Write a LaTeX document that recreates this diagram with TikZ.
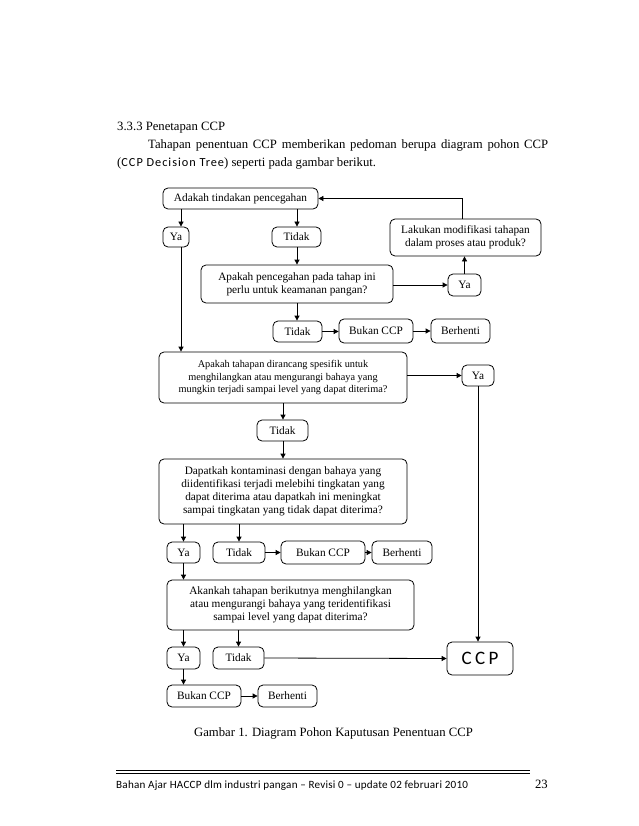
\documentclass[tikz,border=0pt]{standalone}
\usepackage{fontspec}
\setmainfont{Liberation Serif}
\newfontfamily\calibsp[LetterSpace=8]{Carlito}
\newfontfamily\calibfoot[LetterSpace=2]{Carlito}
\newfontfamily\calibbig[LetterSpace=18]{Carlito}
\usetikzlibrary{arrows.meta}
\begin{document}
\begin{tikzpicture}[x=1pt,y=-1pt,
  box/.style={draw, rounded corners=5pt, line width=0.8pt, inner sep=0pt, align=center,
              font=\fontsize{11.3}{13}\selectfont},
  small/.style={font=\fontsize{10.3}{12.4}\selectfont},
  arr/.style={line width=0.8pt, -{Triangle[length=5pt,width=5pt]}},
  ln/.style={line width=0.8pt},
  txt/.style={inner sep=0pt, font=\fontsize{12.7}{15}\selectfont}]
\useasboundingbox[fill=white] (0,0) rectangle (638,826);

% page text
\node[txt, anchor=base west] (head) at (117,131) {3.3.3 Penetapan CCP};
\node[txt, anchor=base west] (par1) at (148,149) {\makebox[400pt][s]{Tahapan penentuan CCP memberikan pedoman berupa diagram pohon CCP}};
\node[txt, anchor=base west] (par2) at (117,167) {({\calibsp\fontsize{12.3}{14}\selectfont CCP Decision Tree}) seperti pada gambar berikut.};

% boxes
\node[box, minimum width=155pt, minimum height=21pt] (adakah) at (240.5,198.5) {Adakah tindakan pencegahan};
\node[box, minimum width=26pt, minimum height=20pt] (ya1) at (176,237) {Ya};
\node[box, minimum width=49pt, minimum height=20pt] (tidak1) at (296.5,237) {Tidak};
\node[box, minimum width=151pt, minimum height=37pt] (lakukan) at (465.5,237.5) {Lakukan modifikasi tahapan\\dalam proses atau produk?};
\node[box, minimum width=192pt, minimum height=38pt] (apakah1) at (297,284) {Apakah pencegahan pada tahap ini\\perlu untuk keamanan pangan?};
\node[box, minimum width=33pt, minimum height=22pt] (ya2) at (464.5,285) {Ya};
\node[box, minimum width=49pt, minimum height=21pt] (tidak2) at (297.5,331.5) {Tidak};
\node[box, minimum width=74pt, minimum height=24pt] (bukan1) at (376,331) {Bukan CCP};
\node[box, minimum width=59pt, minimum height=24pt] (berhenti1) at (460.5,331) {Berhenti};
\node[box, small, minimum width=248pt, minimum height=51pt] (apakah2) at (283,377.5) {Apakah tahapan dirancang spesifik untuk\\menghilangkan atau mengurangi bahaya yang\\mungkin terjadi sampai level yang dapat diterima?};
\node[box, minimum width=32pt, minimum height=21pt] (ya3) at (478,375.5) {Ya};
\node[box, minimum width=51pt, minimum height=21pt] (tidak3) at (282.5,430.5) {Tidak};
\node[box, minimum width=248pt, minimum height=65pt] (dapat) at (283,491.5) {Dapatkah kontaminasi dengan bahaya yang\\diidentifikasi terjadi melebihi tingkatan yang\\dapat diterima atau dapatkah ini meningkat\\sampai tingkatan yang tidak dapat diterima?};
\node[box, minimum width=33pt, minimum height=21pt] (ya4) at (183.5,552.5) {Ya};
\node[box, minimum width=52pt, minimum height=21pt] (tidak4) at (239,552.5) {Tidak};
\node[box, minimum width=84pt, minimum height=23pt] (bukan2) at (323,552.5) {Bukan CCP};
\node[box, minimum width=60pt, minimum height=23pt] (berhenti2) at (402,552.5) {Berhenti};
\node[box, minimum width=247pt, minimum height=50pt] (akan) at (290.5,605) {Akankah tahapan berikutnya menghilangkan\\atau mengurangi bahaya yang teridentifikasi\\sampai level yang dapat diterima?};
\node[box, minimum width=33pt, minimum height=22pt] (ya5) at (183.5,658) {Ya};
\node[box, minimum width=51pt, minimum height=22pt] (tidak5) at (238.5,658) {Tidak};
\node[box, minimum width=66pt, minimum height=33pt, font=\calibbig\fontsize{19}{22}\selectfont] (ccp) at (480,658.5) {CCP};
\node[box, minimum width=74pt, minimum height=22pt] (bukan3) at (204,696) {Bukan CCP};
\node[box, minimum width=59pt, minimum height=22pt] (berhenti3) at (287.5,696) {Berhenti};

% connectors
\draw[arr] (lakukan.north -| 462,0) |- (adakah.east);
\draw[arr] (adakah.south -| 181,0) -- (ya1.north -| 181,0);
\draw[arr] (adakah.south -| 297,0) -- (tidak1.north -| 297,0);
\draw[arr] (tidak1.south -| 297,0) -- (apakah1.north -| 297,0);
\draw[arr] (apakah1.east |- ya2) -- (ya2.west);
\draw[arr] (ya2.north) -- (lakukan.south -| ya2.north);
\draw[arr] (apakah1.south -| 297,0) -- (tidak2.north -| 297,0);
\draw[arr] (tidak2.east) -- (bukan1.west |- tidak2.east);
\draw[arr] (bukan1.east) -- (berhenti1.west);
\draw[arr] (ya1.south -| 181,0) -- (apakah2.north -| 181,0);
\draw[arr] (apakah2.east |- ya3) -- (ya3.west);
\draw[arr] (ya3.south) -- (ccp.north -| ya3.south);
\draw[arr] (apakah2.south -| 283,0) -- (tidak3.north -| 283,0);
\draw[arr] (tidak3.south -| 283,0) -- (dapat.north -| 283,0);
\draw[arr] (dapat.south -| ya4) -- (ya4.north);
\draw[arr] (dapat.south -| tidak4) -- (tidak4.north);
\draw[arr] (tidak4.east) -- (bukan2.west);
\draw[arr] (bukan2.east) -- (berhenti2.west);
\draw[arr] (ya4.south) -- (akan.north -| ya4.south);
\draw[arr] (akan.south -| ya5) -- (ya5.north);
\draw[arr] (akan.south -| tidak5) -- (tidak5.north);
\draw[arr] (tidak5.east) -- (ccp.west);
\draw[arr] (ya5.south) -- (bukan3.north -| ya5.south);
\draw[arr] (bukan3.east) -- (berhenti3.west);

% caption and footer
\node[txt, anchor=base] (cap) at (333.5,736) {Gambar 1. Diagram Pohon Kaputusan Penentuan CCP};
\coordinate (rl) at (116,770.5);
\coordinate (rr) at (530,770.5);
\draw[line width=1.2pt] (rl) -- (rr);
\draw[line width=0.5pt] ([yshift=-2.5pt]rl) -- ([yshift=-2.5pt]rr);
\node[inner sep=0pt, anchor=base west, font=\calibfoot\fontsize{11.1}{13}\selectfont] (foot) at (116,788) {Bahan Ajar HACCP dlm industri pangan – Revisi 0 – update 02 februari 2010};
\node[txt, anchor=base east] (pg) at (548,788) {23};
\end{tikzpicture}
\end{document}
